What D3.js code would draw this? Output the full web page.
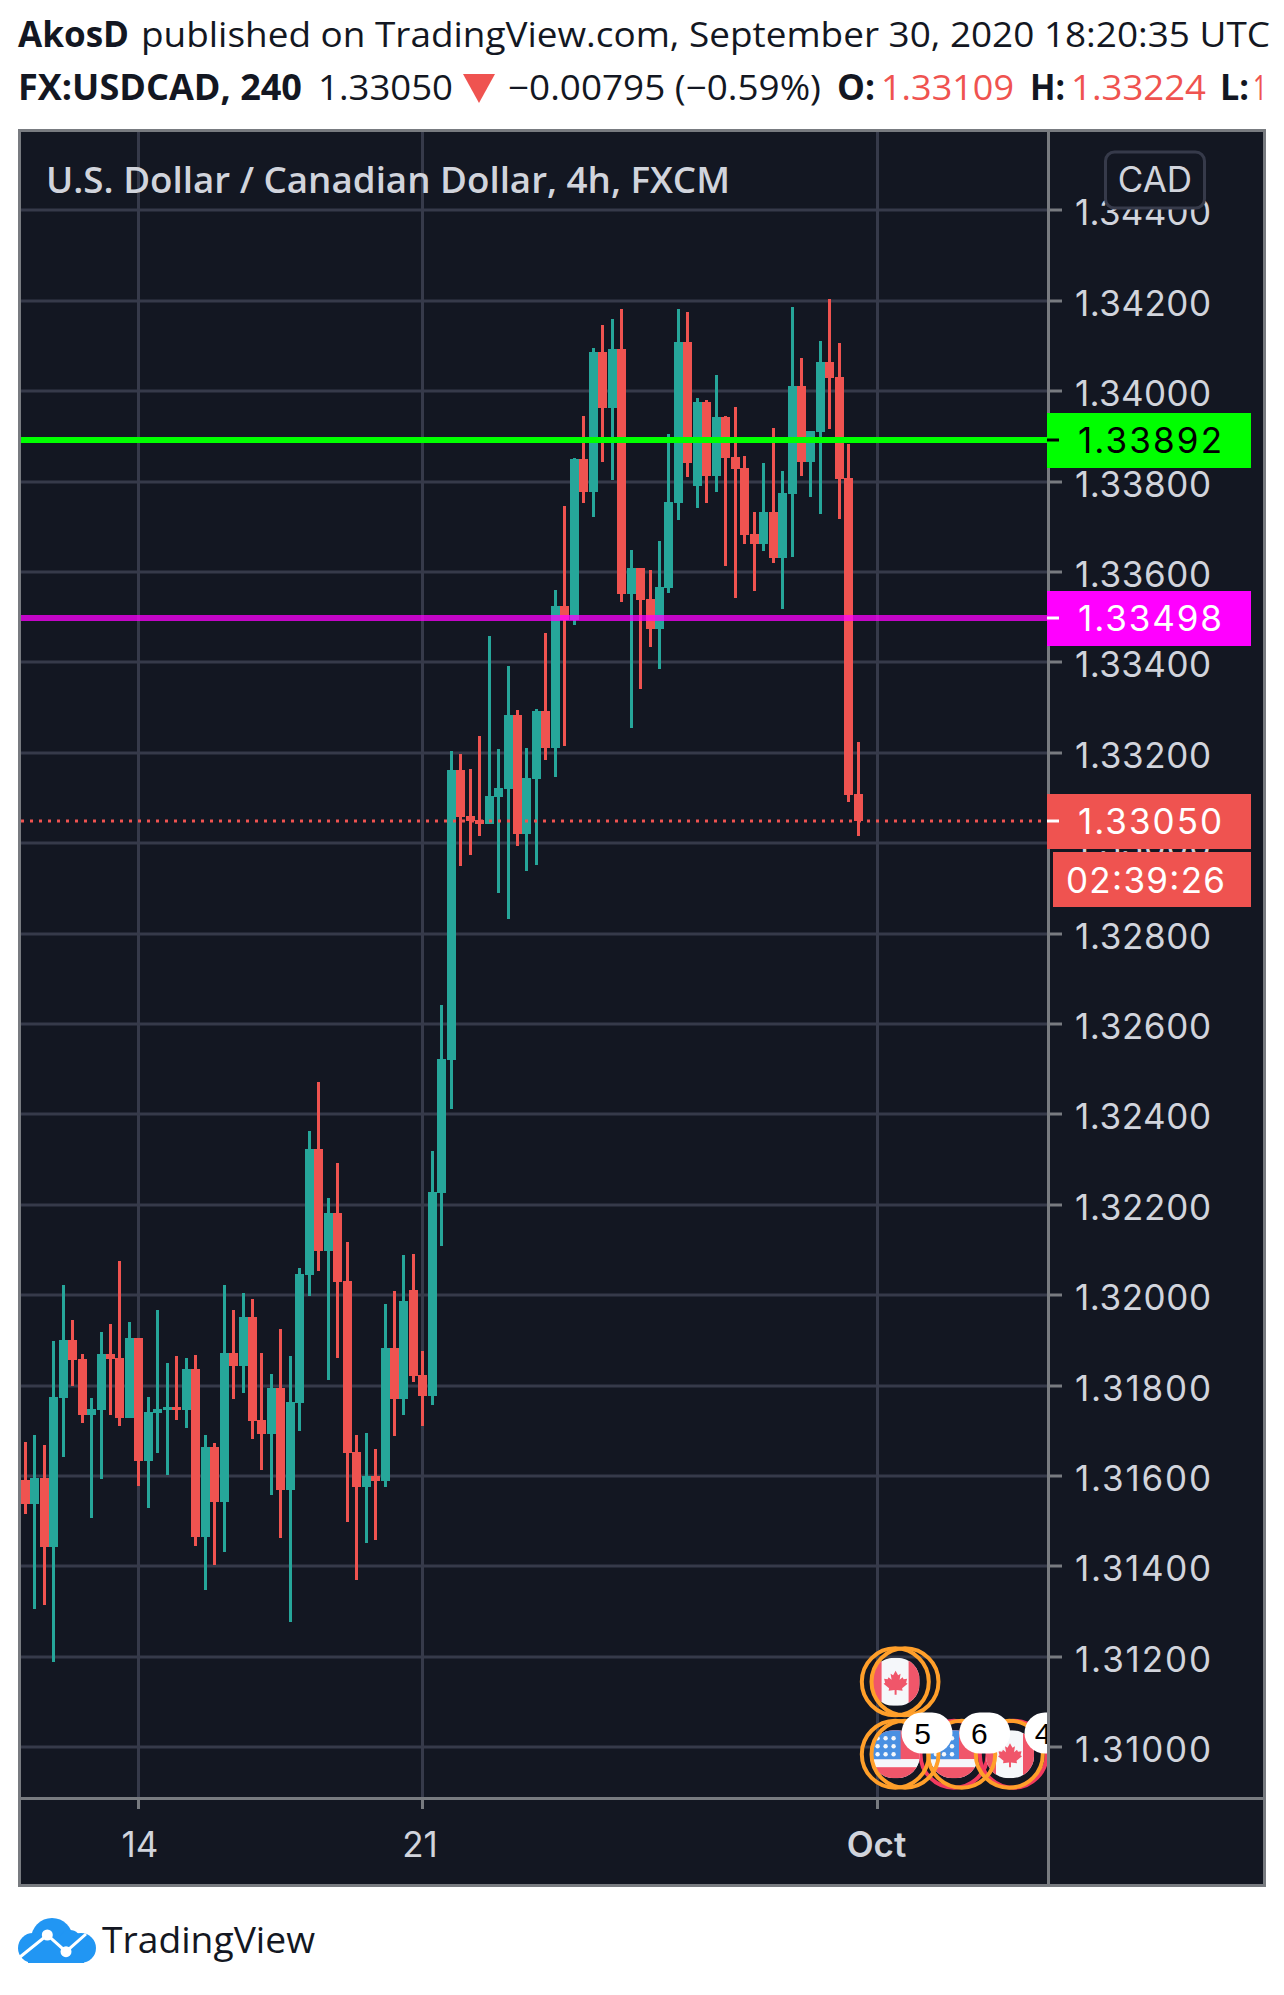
<!DOCTYPE html>
<html><head><meta charset="utf-8">
<script src="https://cdn.jsdelivr.net/npm/d3@7/dist/d3.min.js"></script>
<style>html,body{margin:0;padding:0;background:#fff}svg{display:block}</style>
</head><body><svg id="c" width="1284" height="1995"></svg>
<script>
const opens=[1.31591,1.31538,1.31595,1.31443,1.31772,1.31901,1.31859,1.31735,1.31746,1.31870,1.31861,1.31728,1.31905,1.31633,1.31739,1.31746,1.31752,1.31746,1.31837,1.31465,1.31664,1.31542,1.31872,1.31843,1.31952,1.31724,1.31693,1.31795,1.31569,1.31761,1.32045,1.32323,1.32098,1.32182,1.32031,1.31653,1.31576,1.31600,1.31589,1.31883,1.31770,1.32011,1.31823,1.31777,1.32226,1.32520,1.33162,1.33060,1.33051,1.33042,1.33102,1.33120,1.33283,1.33020,1.33142,1.33292,1.33210,1.33524,1.33493,1.33849,1.33776,1.34086,1.33962,1.34093,1.33551,1.33608,1.33540,1.33473,1.33564,1.33752,1.34108,1.33790,1.33975,1.33812,1.33942,1.33854,1.33829,1.33683,1.33661,1.33732,1.33630,1.33772,1.34011,1.33843,1.33909,1.34064,1.34031,1.33807,1.33109];
const highs=[1.31675,1.31691,1.31668,1.31899,1.32022,1.31945,1.31870,1.31772,1.31918,1.31936,1.32075,1.31941,1.31905,1.31775,1.31967,1.31850,1.31865,1.31861,1.31868,1.31691,1.31673,1.32022,1.31967,1.32005,1.31991,1.31872,1.31826,1.31925,1.31865,1.32060,1.32363,1.32472,1.32215,1.32292,1.32118,1.31691,1.31695,1.31660,1.31980,1.32009,1.32089,1.32091,1.31876,1.32319,1.32642,1.33204,1.33197,1.33164,1.33237,1.33458,1.33208,1.33391,1.33294,1.33210,1.33296,1.33464,1.33560,1.33745,1.33852,1.33945,1.34095,1.34146,1.34159,1.34181,1.33648,1.33608,1.33604,1.33668,1.33905,1.34181,1.34175,1.33984,1.33980,1.34035,1.33945,1.33964,1.33856,1.33732,1.33841,1.33918,1.33823,1.34186,1.34073,1.33911,1.34110,1.34203,1.34106,1.33883,1.33224];
const lows=[1.31516,1.31306,1.31315,1.31188,1.31642,1.31799,1.31717,1.31507,1.31593,1.31735,1.31710,1.31728,1.31578,1.31529,1.31651,1.31602,1.31724,1.31706,1.31445,1.31348,1.31403,1.31432,1.31770,1.31784,1.31682,1.31613,1.31558,1.31463,1.31277,1.31699,1.31998,1.32053,1.31812,1.31861,1.31498,1.31370,1.31452,1.31458,1.31576,1.31688,1.31735,1.31808,1.31710,1.31757,1.32109,1.32412,1.32949,1.32974,1.33016,1.33042,1.32889,1.32832,1.32993,1.32938,1.32951,1.33184,1.33146,1.33215,1.33482,1.33752,1.33721,1.33843,1.33803,1.33533,1.33254,1.33341,1.33434,1.33385,1.33553,1.33714,1.33810,1.33741,1.33752,1.33776,1.33613,1.33542,1.33661,1.33557,1.33646,1.33619,1.33517,1.33633,1.33812,1.33765,1.33728,1.33916,1.33717,1.33091,1.33016];
const closes=[1.31538,1.31595,1.31443,1.31775,1.31901,1.31856,1.31735,1.31748,1.31870,1.31859,1.31728,1.31905,1.31633,1.31741,1.31748,1.31752,1.31746,1.31837,1.31465,1.31664,1.31542,1.31872,1.31843,1.31952,1.31721,1.31693,1.31795,1.31569,1.31764,1.32047,1.32323,1.32098,1.32182,1.32029,1.31651,1.31576,1.31600,1.31589,1.31883,1.31770,1.31987,1.31821,1.31777,1.32228,1.32522,1.33162,1.33058,1.33049,1.33042,1.33104,1.33122,1.33283,1.33020,1.33144,1.33292,1.33210,1.33524,1.33493,1.33849,1.33776,1.34086,1.33962,1.34093,1.33551,1.33608,1.33537,1.33473,1.33566,1.33754,1.34108,1.33841,1.33975,1.33812,1.33942,1.33852,1.33827,1.33681,1.33661,1.33732,1.33630,1.33774,1.34011,1.33843,1.33911,1.34064,1.34029,1.33805,1.33106,1.33050];
const priceTicks=[1.344,1.342,1.34,1.338,1.336,1.334,1.332,1.33,1.328,1.326,1.324,1.322,1.32,1.318,1.316,1.314,1.312,1.31];
const timeTickIndex=[12,42,90];
const timeTickLabels=["14","21","Oct"];
const timeTickNudge=[1.5,-2.5,-1];
const supportLevels=[1.33892,1.33498];
const lastPrice=1.3305;
const countdown="02:39:26";
const headerLine1=[["AkosD",700,18,111],["published on TradingView.com, September 30, 2020 18:20:35 UTC",400,141,1129]];
const headerLine2=[["FX:USDCAD, 240",700,18,"#131722",284],["1.33050",400,318,"#131722",135],["\u22120.00795 (\u22120.59%)",400,508,"#131722",313],["O:",700,837,"#131722",38],["1.33109",400,881,"#ef5350",133],["H:",700,1030,"#131722",35],["1.33224",400,1071,"#ef5350",135],["L:",700,1220,"#131722",29],["1",400,1253,"#ef5350",14]];
const eventRingsBack=[[954,1754.2],[1013.3,1754.2]];
const eventRingsFront=[[895.3,1681.8],[905,1681.8],[895.3,1754.2],[905,1754.2],[961.7,1754.2],[1009.3,1754.2]];
const eventFlags=[["CA",895.6,1681.8],["US",895.6,1754.2],["US",954,1754.2],["CA",1010,1754.2]];
const eventBadges=[["5",927,1733,922.7],["6",984.7,1733,979.3],["4",1050,1733,1043]];

const UP="#26a69a",DOWN="#ef5350",BG="#131722",GRID="#363a4a",AXIS="#787b80",TXT="#d1d4dc";
const LEFT=21,RIGHT=1047,TOP=132,BOTTOM=1797,PANE_R=1263,PANE_B=1884;
const x=d3.scaleLinear().domain([0,90]).range([25.3,877.24]);
const y=d3.scaleLinear().domain([1.31,1.344]).range([1747.3,210.3]);
const px=v=>Math.round(x(v)-1.5);
const py=v=>Math.round(y(v));
const svg=d3.select("#c");
const FONT="'Open Sans',sans-serif",NUM="Inter,sans-serif";

/* header */
const hdr=svg.append("g").attr("font-family",FONT).attr("font-size",35).attr("fill","#131722");
headerLine1.forEach(d=>hdr.append("text").attr("x",d[2]).attr("y",47).attr("font-weight",d[1]).attr("textLength",d[3]).attr("lengthAdjust","spacingAndGlyphs").text(d[0]));
headerLine2.forEach(d=>hdr.append("text").attr("x",d[2]).attr("y",100).attr("font-weight",d[1]).attr("fill",d[3]).attr("textLength",d[4]).attr("lengthAdjust","spacingAndGlyphs").text(d[0]));
svg.append("path").attr("d","M463 74H495L479 103Z").attr("fill",DOWN);

/* pane */
svg.append("rect").attr("x",18).attr("y",129).attr("width",1248).attr("height",1758).attr("fill",AXIS);
svg.append("rect").attr("x",21).attr("y",132).attr("width",1242).attr("height",1752).attr("fill",BG);
const defs=svg.append("defs");
defs.append("clipPath").attr("id","plot").append("rect").attr("x",LEFT).attr("y",TOP).attr("width",RIGHT-LEFT).attr("height",BOTTOM-TOP);
const plot=svg.append("g").attr("clip-path","url(#plot)");
plot.selectAll("rect.gy").data(priceTicks).join("rect").attr("class","gy").attr("x",LEFT).attr("width",RIGHT-LEFT).attr("y",d=>py(d)-1.5).attr("height",3).attr("fill",GRID);
plot.selectAll("rect.gx").data(timeTickIndex).join("rect").attr("class","gx").attr("x",d=>px(d)).attr("width",3).attr("y",TOP).attr("height",BOTTOM-TOP).attr("fill",GRID);

/* candles */
const idx=d3.range(opens.length);
const color=i=>closes[i]>=opens[i]?UP:DOWN;
plot.selectAll("rect.wick").data(idx).join("rect").attr("class","wick")
 .attr("x",i=>px(i)).attr("width",3).attr("y",i=>py(highs[i])).attr("height",i=>py(lows[i])-py(highs[i])).attr("fill",color);
plot.selectAll("rect.body").data(idx).join("rect").attr("class","body")
 .attr("x",i=>px(i)-3).attr("width",9)
 .attr("y",i=>py(Math.max(opens[i],closes[i])))
 .attr("height",i=>Math.max(3,py(Math.min(opens[i],closes[i]))-py(Math.max(opens[i],closes[i]))))
 .attr("fill",color);

/* level lines */
plot.append("line").attr("x1",LEFT).attr("x2",RIGHT).attr("y1",y(supportLevels[0])).attr("y2",y(supportLevels[0])).attr("stroke","#00ff00").attr("stroke-width",6);
plot.append("line").attr("x1",LEFT).attr("x2",RIGHT).attr("y1",y(supportLevels[1])).attr("y2",y(supportLevels[1])).attr("stroke","#ff00ff").attr("stroke-opacity",.75).attr("stroke-width",6);
plot.append("line").attr("x1",LEFT).attr("x2",RIGHT).attr("y1",py(lastPrice)).attr("y2",py(lastPrice)).attr("stroke",DOWN).attr("stroke-width",3).attr("stroke-dasharray","3 6");

/* events */
const leaf="M0 -11L2.5 -6.5L5 -8L4 -2L7 -4.5L8 -2.5L11.5 -3L10.5 1L12 2L6.5 6.5L7 9L1 8.2L1 13H-1L-1 8.2L-7 9L-6.5 6.5L-12 2L-10.5 1L-11.5 -3L-8 -2.5L-7 -4.5L-4 -2L-5 -8L-2.5 -6.5Z";
const FRED="#f0566a",FWHITE="#f5f7fa",FBLUE="#4a90e2";
const ev=plot.append("g");
ev.selectAll("circle.back").data(eventRingsBack).join("circle").attr("class","back").attr("cx",d=>d[0]).attr("cy",d=>d[1]).attr("r",33.5).attr("fill","none").attr("stroke","#f23a5f").attr("stroke-width",4);
eventFlags.forEach((f,k)=>{
  const g=ev.append("g").attr("transform",`translate(${f[1]},${f[2]})`);
  defs.append("clipPath").attr("id","fl"+k).append("rect").attr("x",-24).attr("y",-24).attr("width",48).attr("height",48).attr("rx",22);
  const c=g.append("g").attr("clip-path",`url(#fl${k})`);
  c.append("rect").attr("x",-24).attr("y",-24).attr("width",48).attr("height",48).attr("fill",FWHITE);
  if(f[0]==="CA"){
    c.append("rect").attr("x",-24).attr("y",-24).attr("width",10).attr("height",48).attr("fill",FRED);
    c.append("rect").attr("x",13).attr("y",-24).attr("width",11).attr("height",48).attr("fill",FRED);
    g.append("path").attr("d",leaf).attr("fill",FRED);
  } else {
    c.append("rect").attr("x",-24).attr("y",-24).attr("width",48).attr("height",29).attr("fill",FRED);
    c.append("rect").attr("x",-24).attr("y",5).attr("width",48).attr("height",8).attr("fill",FWHITE);
    c.append("rect").attr("x",-24).attr("y",13).attr("width",48).attr("height",11).attr("fill",FRED);
    c.append("rect").attr("x",-24).attr("y",-24).attr("width",29).attr("height",29).attr("fill",FBLUE);
    [-19,-11,-3].forEach(sx=>[-17,-9,-1].forEach(sy=>c.append("circle").attr("cx",sx+1).attr("cy",sy+1).attr("r",2.2).attr("fill",FWHITE)));
  }
});
ev.selectAll("circle.front").data(eventRingsFront).join("circle").attr("class","front").attr("cx",d=>d[0]).attr("cy",d=>d[1]).attr("r",33.5).attr("fill","none").attr("stroke","#ff9f2a").attr("stroke-width",4);
eventBadges.forEach(b=>{
  ev.append("rect").attr("x",b[1]-25.5).attr("y",b[2]-20.5).attr("width",51).attr("height",41).attr("rx",20.5).attr("fill","#fff");
  ev.append("text").attr("x",b[3]).attr("y",b[2]+11).attr("text-anchor","middle").attr("font-family","'Liberation Sans',sans-serif").attr("font-size",30).attr("fill","#000").text(b[0]);
});

/* title */
svg.append("text").attr("x",46).attr("y",193).attr("font-family",FONT).attr("font-size",36).attr("font-weight",600).attr("fill",TXT).attr("textLength",684).attr("lengthAdjust","spacingAndGlyphs").text("U.S. Dollar / Canadian Dollar, 4h, FXCM");

/* axes */
svg.append("rect").attr("x",RIGHT).attr("y",TOP).attr("width",3).attr("height",PANE_B-TOP).attr("fill",AXIS);
svg.append("rect").attr("x",LEFT).attr("y",BOTTOM).attr("width",PANE_R-LEFT).attr("height",3).attr("fill",AXIS);
const ya=svg.append("g");
ya.selectAll("rect").data(priceTicks).join("rect").attr("x",1050).attr("width",12).attr("y",d=>py(d)-1.5).attr("height",3).attr("fill",AXIS);
const NUMSZ=35;
ya.selectAll("text").data(priceTicks).join("text").attr("x",1075).attr("y",d=>py(d)+14.5).attr("font-family",NUM).attr("font-size",NUMSZ).attr("fill",TXT).attr("textLength",136).attr("lengthAdjust","spacing").text(d=>d.toFixed(5));
const xa=svg.append("g");
xa.selectAll("rect").data(timeTickIndex).join("rect").attr("x",d=>px(d)).attr("width",3).attr("y",1800).attr("height",9).attr("fill",AXIS);
xa.selectAll("text").data(timeTickIndex).join("text").attr("x",(d,i)=>px(d)+1.5+timeTickNudge[i]).attr("y",1857).attr("text-anchor","middle").attr("font-family",NUM).attr("font-size",NUMSZ).attr("font-weight",(d,i)=>i===2?600:400).attr("fill",TXT).text((d,i)=>timeTickLabels[i]);

/* CAD button */
svg.append("rect").attr("x",1105.5).attr("y",152).attr("width",99).attr("height",56).attr("rx",9).attr("fill",BG).attr("stroke",GRID).attr("stroke-width",3);
svg.append("text").attr("x",1155).attr("y",192).attr("text-anchor","middle").attr("font-family",NUM).attr("font-size",35).attr("fill",TXT).text("CAD");

/* price labels */
function label(v,fill,txt,tick){
  const c=py(v);
  svg.append("rect").attr("x",1047).attr("y",c-27).attr("width",204).attr("height",55).attr("fill",fill);
  svg.append("rect").attr("x",1047).attr("y",c-1.5).attr("width",12).attr("height",3).attr("fill",tick);
  svg.append("text").attr("x",1078).attr("y",c+13).attr("font-family",NUM).attr("font-size",NUMSZ).attr("fill",txt).attr("textLength",144).attr("lengthAdjust","spacing").text(v.toFixed(5));
}
label(supportLevels[0],"#00ff00","#000","#000");
label(supportLevels[1],"#ff00ff","#fff","#fff");
label(lastPrice,DOWN,"#fff","#fff");
svg.append("rect").attr("x",1053).attr("y",852).attr("width",198).attr("height",55).attr("fill",DOWN);
svg.append("text").attr("x",1066).attr("y",893).attr("font-family",NUM).attr("font-size",NUMSZ).attr("fill","#fff").attr("textLength",159).attr("lengthAdjust","spacing").text(countdown);

/* logo */
const logo=svg.append("g").attr("fill","#2196f3");
[[52,1939,21],[33,1948,15],[81,1948,15],[70,1941,11]].forEach(c=>logo.append("circle").attr("cx",c[0]).attr("cy",c[1]).attr("r",c[2]));
logo.append("rect").attr("x",28).attr("y",1945).attr("width",56).attr("height",18);
svg.append("path").attr("d",d3.line()([[20,1957],[47.3,1935],[66,1951.7],[86,1934]])).attr("fill","none").attr("stroke","#fff").attr("stroke-width",3);
svg.append("circle").attr("cx",47.3).attr("cy",1935).attr("r",5.5).attr("fill","#fff");
svg.append("circle").attr("cx",66).attr("cy",1951.7).attr("r",5.5).attr("fill","#fff");
svg.append("text").attr("x",102).attr("y",1953).attr("font-family",FONT).attr("font-size",36).attr("fill","#131722").attr("textLength",213).attr("lengthAdjust","spacingAndGlyphs").text("TradingView");
</script></body></html>
